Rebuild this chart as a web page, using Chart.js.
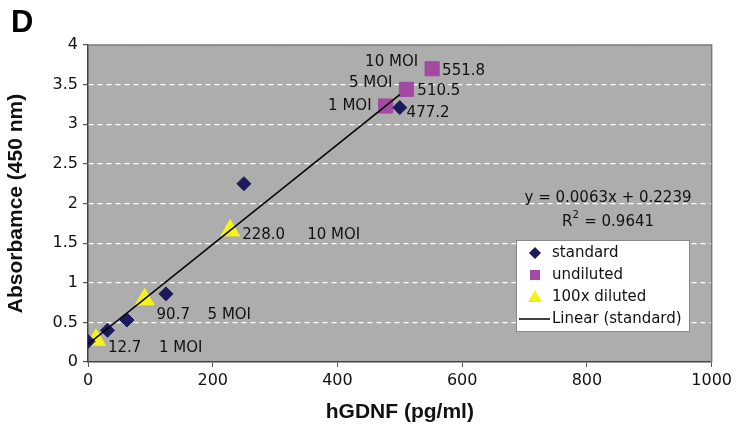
<!DOCTYPE html>
<html>
<head>
<meta charset="utf-8">
<script src="https://cdn.jsdelivr.net/npm/chart.js@4/dist/chart.umd.min.js"></script>
<style>
  html, body { margin: 0; padding: 0; background: #fff; }
  #wrap { width: 736px; height: 429px; position: relative; }
</style>
</head>
<body>
<div id="wrap"><canvas id="elisaChart" width="736" height="429"></canvas></div>
<script>
// standard curve (diamonds)
const stdX = [0, 31.25, 62.5, 125, 250, 500];
const stdY = [0.26, 0.40, 0.53, 0.86, 2.25, 3.21];
// undiluted samples (squares)
const undilX = [477.2, 510.5, 551.8];
const undilY = [3.23, 3.44, 3.70];
// 100x diluted samples (triangles)
const dilX = [12.7, 90.7, 228.0];
const dilY = [0.28, 0.79, 1.66];
const moiLabels = ['1 MOI', '5 MOI', '10 MOI'];
// linear fit of the standard
const trendX = [0, 500];
const trendY = [0.224, 3.374];
const eqText = 'y = 0.0063x + 0.2239';
const r2Text = '0.9641';
const xTicks = [0, 200, 400, 600, 800, 1000];
const yTicks = ['0', '0.5', '1', '1.5', '2', '2.5', '3', '3.5', '4'];

const NAVY = '#1c1a5c';
const PURPLE = '#a34aa3';
const YELLOW = '#f4f218';
const TXT = '#111';
const LABEL_FONT = '15px "DejaVu Sans"';

function pts(xs, ys) {
    return xs.map((x, i) => ({ x: x, y: ys[i] }));
}

// gray plot background + frame
const plotBg = {
    id: 'plotBg',
    beforeDraw(chart) {
        const { ctx, chartArea: a } = chart;
        ctx.save();
        ctx.fillStyle = '#adadad';
        ctx.fillRect(a.left, a.top, a.right - a.left, a.bottom - a.top);
        ctx.restore();
    },
    afterDraw(chart) {
        const { ctx, chartArea: a } = chart;
        ctx.save();
        ctx.strokeStyle = '#7a7a7a';
        ctx.lineWidth = 1.5;
        ctx.beginPath();
        ctx.moveTo(a.left, a.top);
        ctx.lineTo(a.right, a.top);
        ctx.lineTo(a.right, a.bottom);
        ctx.stroke();
        // panel letter
        ctx.fillStyle = '#000';
        ctx.font = 'bold 31px "Liberation Sans"';
        ctx.textBaseline = 'alphabetic';
        ctx.fillText('D', 11, 32);
        ctx.restore();
    }
};

// point labels, equation, legend box
const annotations = {
    id: 'annotations',
    afterDatasetsDraw(chart) {
        const { ctx } = chart;
        const xs = chart.scales.x, ys = chart.scales.y;
        ctx.save();
        ctx.fillStyle = TXT;
        ctx.font = LABEL_FONT;
        ctx.textBaseline = 'middle';

        // diluted: value to the right, MOI further right
        const dilDy = [8, 16, 5];
        const moiDx = [63, 63, 77];
        dilX.forEach((v, i) => {
            const px = xs.getPixelForValue(v), py = ys.getPixelForValue(dilY[i]);
            ctx.textAlign = 'left';
            ctx.fillText(v.toFixed(1), px + 12, py + dilDy[i]);
            ctx.fillText(moiLabels[i], px + moiDx[i], py + dilDy[i]);
        });
        // undiluted: value to the right, MOI to the left
        const valDx = [21, 11, 10];
        const valDy = [7, 2, 2];
        const moiDy = [0, -6, -7];
        undilX.forEach((v, i) => {
            const px = xs.getPixelForValue(v), py = ys.getPixelForValue(undilY[i]);
            ctx.textAlign = 'left';
            ctx.fillText(v.toFixed(1), px + valDx[i], py + valDy[i]);
            ctx.textAlign = 'right';
            ctx.fillText(moiLabels[i], px - 14, py + moiDy[i]);
        });

        // equation
        const ex = 608;
        ctx.textAlign = 'center';
        ctx.fillText(eqText, ex, 198);
        ctx.textAlign = 'left';
        const r2a = 'R', r2b = ' = ' + r2Text;
        const w = ctx.measureText(r2a).width + 7 + ctx.measureText(r2b).width;
        let sx = ex - w / 2;
        ctx.fillText(r2a, sx, 222);
        sx += ctx.measureText(r2a).width;
        ctx.font = '10px "DejaVu Sans"';
        ctx.fillText('2', sx, 215);
        sx += 7;
        ctx.font = LABEL_FONT;
        ctx.fillText(r2b, sx, 222);

        // legend
        const L = 516, T = 240, R = 689, B = 331;
        ctx.fillStyle = '#fff';
        ctx.fillRect(L, T, R - L, B - T);
        ctx.strokeStyle = '#888';
        ctx.lineWidth = 1;
        ctx.strokeRect(L + 0.5, T + 0.5, R - L, B - T);
        const rows = [253, 275, 297, 319];
        const names = ['standard', 'undiluted', '100x diluted', 'Linear (standard)'];
        const mx = 535;
        // diamond
        ctx.fillStyle = NAVY;
        ctx.beginPath();
        ctx.moveTo(mx, rows[0] - 6); ctx.lineTo(mx + 6, rows[0]);
        ctx.lineTo(mx, rows[0] + 6); ctx.lineTo(mx - 6, rows[0]);
        ctx.closePath(); ctx.fill();
        // square
        ctx.fillStyle = PURPLE;
        ctx.fillRect(mx - 5, rows[1] - 5, 10, 10);
        // triangle
        ctx.fillStyle = YELLOW;
        ctx.beginPath();
        ctx.moveTo(mx, rows[2] - 7); ctx.lineTo(mx + 7, rows[2] + 5);
        ctx.lineTo(mx - 7, rows[2] + 5);
        ctx.closePath(); ctx.fill();
        // line
        ctx.strokeStyle = '#000';
        ctx.lineWidth = 1.5;
        ctx.beginPath();
        ctx.moveTo(519, rows[3]); ctx.lineTo(550, rows[3]);
        ctx.stroke();
        ctx.fillStyle = TXT;
        ctx.font = '15px "DejaVu Sans"';
        ctx.textAlign = 'left';
        names.forEach((n, i) => ctx.fillText(n, 552, rows[i]));
        ctx.restore();
    }
};

const ctx = document.getElementById('elisaChart').getContext('2d');
new Chart(ctx, {
    type: 'scatter',
    data: {
        datasets: [
            {
                label: 'Linear (standard)',
                type: 'line',
                data: pts(trendX, trendY),
                borderColor: '#000',
                borderWidth: 1.6,
                pointRadius: 0,
                fill: false,
                order: 0
            },
            {
                label: 'standard',
                data: pts(stdX, stdY),
                pointStyle: 'rectRot',
                pointRadius: 7,
                backgroundColor: NAVY,
                borderColor: NAVY,
                order: 1
            },
            {
                label: 'undiluted',
                data: pts(undilX, undilY),
                pointStyle: 'rect',
                pointRadius: 10,
                backgroundColor: PURPLE,
                borderColor: PURPLE,
                order: 2
            },
            {
                label: '100x diluted',
                data: pts(dilX, dilY),
                pointStyle: 'triangle',
                pointRadius: 11,
                backgroundColor: YELLOW,
                borderColor: YELLOW,
                order: 3
            }
        ]
    },
    options: {
        responsive: false,
        animation: false,
        layout: { padding: { top: 45, right: 21, left: 0, bottom: 0 } },
        scales: {
            x: {
                type: 'linear',
                min: 0,
                max: 1000,
                afterBuildTicks: s => { s.ticks = xTicks.map(v => ({ value: v })); },
                afterFit: s => { s.height = 67; },
                ticks: {
                    color: TXT,
                    font: { family: 'DejaVu Sans', size: 16 },
                    padding: 4,
                    maxRotation: 0,
                    callback: v => String(v)
                },
                grid: { drawOnChartArea: false, tickColor: '#555', tickLength: 5 },
                border: { color: '#444', width: 1.5 },
                title: {
                    display: true,
                    text: 'hGDNF (pg/ml)',
                    color: '#111',
                    font: { family: 'Liberation Sans', size: 21, weight: 'bold' },
                    padding: { top: 0 }
                }
            },
            y: {
                min: 0,
                max: 4,
                afterBuildTicks: s => { s.ticks = yTicks.map(t => ({ value: parseFloat(t) })); },
                afterFit: s => { s.width = 88; },
                ticks: {
                    color: TXT,
                    font: { family: 'DejaVu Sans', size: 16 },
                    padding: 5,
                    callback: (v, i) => yTicks[i]
                },
                grid: { color: '#fff', lineWidth: 1.2, tickColor: '#555', tickLength: 5 },
                border: { color: '#444', width: 1.5, dash: [5, 4] },
                title: {
                    display: true,
                    text: 'Absorbamce (450 nm)',
                    color: '#111',
                    font: { family: 'Liberation Sans', size: 21, weight: 'bold' },
                    padding: { bottom: 0 }
                }
            }
        },
        plugins: {
            legend: { display: false },
            tooltip: { enabled: false }
        }
    },
    plugins: [plotBg, annotations]
});
</script>
</body>
</html>
